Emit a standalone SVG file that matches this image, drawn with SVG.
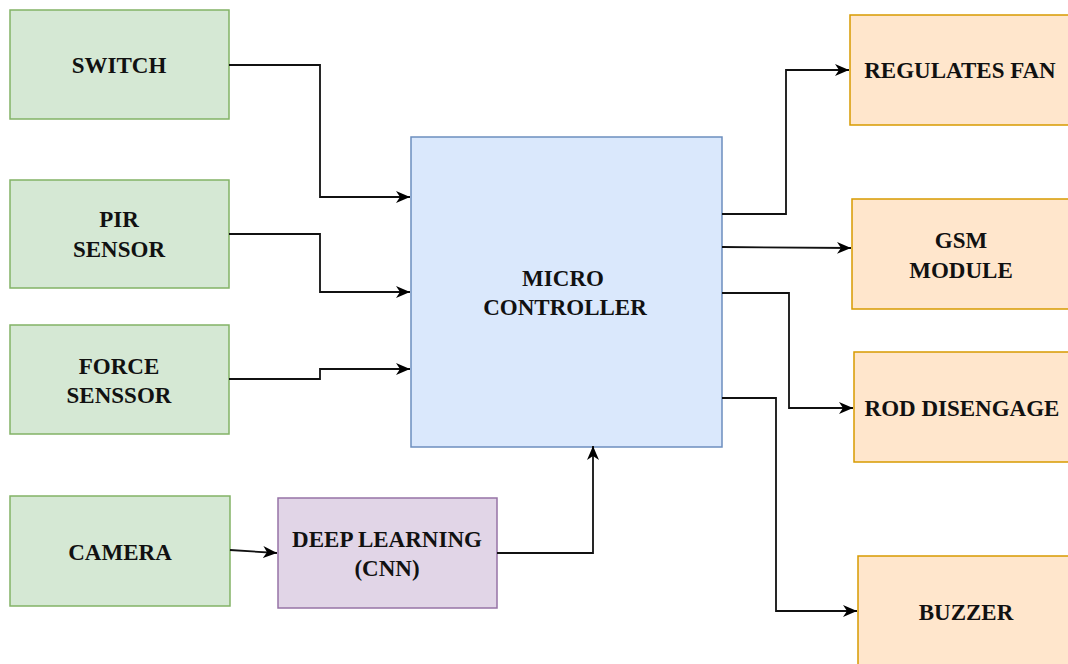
<svg xmlns="http://www.w3.org/2000/svg" width="1068" height="664" viewBox="0 0 1068 664">
<style>
  .g { fill: #d5e8d4; stroke: #82b366; stroke-width: 1.5; }
  .b { fill: #dae8fc; stroke: #6c8ebf; stroke-width: 1.5; }
  .o { fill: #ffe6cc; stroke: #d79b00; stroke-width: 1.5; }
  .p { fill: #e1d5e7; stroke: #9673a6; stroke-width: 1.5; }
  text { font-family: "Liberation Serif", "Times New Roman", serif; font-weight: bold; font-size: 23px; fill: #111; text-anchor: middle; }
  .c path { fill: none; stroke: #111; stroke-width: 1.8; marker-end: url(#arr); }
</style>
<defs>
  <marker id="arr" markerUnits="userSpaceOnUse" markerWidth="16" markerHeight="16" refX="14" refY="8" orient="auto">
    <path d="M0,2 L14,8 L0,14 L4,8 z" fill="#000"/>
  </marker>
</defs>
<rect width="1068" height="664" fill="#ffffff"/>
<g id="switch"><rect class="g" x="10" y="10" width="219" height="109"/><text x="119" y="73">SWITCH</text></g>
<g id="pir"><rect class="g" x="10" y="180" width="219" height="108"/><text x="119" y="227">PIR</text><text x="119" y="257">SENSOR</text></g>
<g id="force"><rect class="g" x="10" y="325" width="219" height="109"/><text x="119" y="374">FORCE</text><text x="119" y="403">SENSSOR</text></g>
<g id="camera"><rect class="g" x="10" y="496" width="220" height="110"/><text x="120" y="560">CAMERA</text></g>
<g id="dl"><rect class="p" x="278" y="498" width="219" height="110"/><text x="387" y="547">DEEP LEARNING</text><text x="387" y="576">(CNN)</text></g>
<g id="micro"><rect class="b" x="411" y="137" width="311" height="310"/><text x="563" y="286">MICRO</text><text x="565" y="315">CONTROLLER</text></g>
<g id="fan"><rect class="o" x="850" y="15" width="222" height="110"/><text x="960" y="78">REGULATES FAN</text></g>
<g id="gsm"><rect class="o" x="852" y="199" width="220" height="110"/><text x="961" y="248">GSM</text><text x="961" y="278">MODULE</text></g>
<g id="rod"><rect class="o" x="854" y="352" width="218" height="110"/><text x="962" y="416">ROD DISENGAGE</text></g>
<g id="buzzer"><rect class="o" x="858" y="556" width="214" height="112"/><text x="966" y="620">BUZZER</text></g>
<g id="connectors" class="c">
  <path d="M229,65 H320 V197 H410"/>
  <path d="M229,234 H320 V292 H410"/>
  <path d="M229,379 H320 V369 H410"/>
  <path d="M230,550 L277,553"/>
  <path d="M497,553 H593 V446"/>
  <path d="M722,214 H786 V70 H849"/>
  <path d="M722,247 L851,248"/>
  <path d="M722,293 H789 V408 H853"/>
  <path d="M722,398 H776 V611 H857"/>
</g>
</svg>
